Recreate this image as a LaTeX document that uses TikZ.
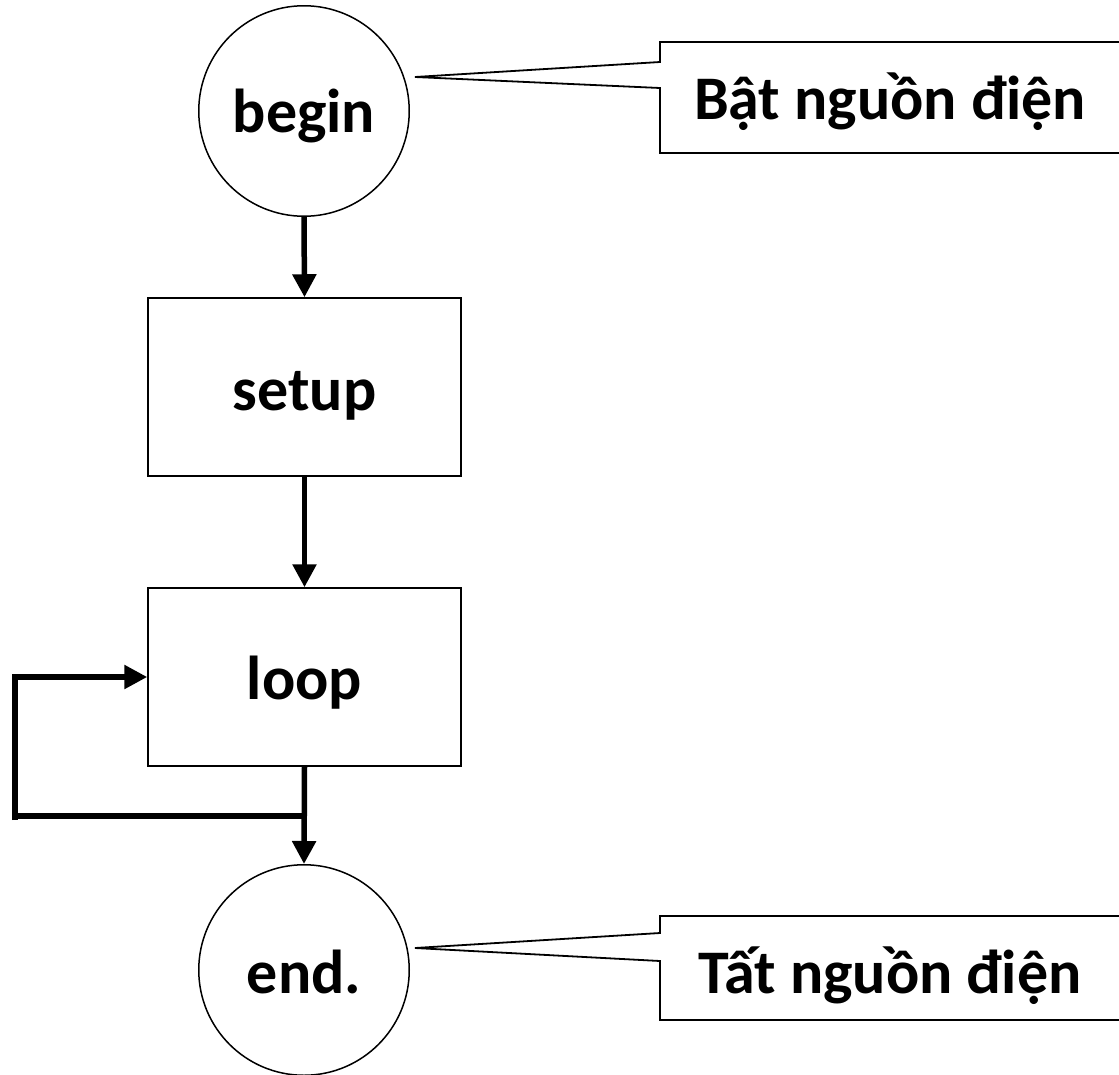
\documentclass[tikz,border=0pt]{standalone}
\usepackage{fontspec}
\setmainfont{Carlito}
\usetikzlibrary{arrows.meta}
\begin{document}
\begin{tikzpicture}[x=1pt,y=-1pt,
  lbl/.style={font=\fontsize{62}{70}\selectfont\bfseries, inner sep=0pt, anchor=base},
  circ/.style={draw, circle, line width=1.5pt, minimum size=210.5pt, inner sep=0pt},
  boxx/.style={draw, rectangle, line width=1.5pt, minimum width=313pt, minimum height=178pt, inner sep=0pt},
  flow/.style={line width=5.5pt, -{Triangle[length=23pt,width=23pt]}},
  plain/.style={line width=5.5pt},
  callout/.style={draw, line width=1.8pt, fill=white}]
\useasboundingbox (0,0) rectangle (1119,1074);
\node[circ] (begin) at (304,111) {};
\node[lbl] at (304,132) {begin};
\node[boxx] (setup) at (304.5,387) {};
\node[lbl] at (304.5,410) {setup};
\node[boxx] (loop) at (304.5,677) {};
\node[lbl] at (304.5,699) {loop};
\node[circ] (end) at (304,970) {};
\node[lbl] at (304,993) {end.};
% connectors
\draw[flow] (begin.south) -- (setup.north);
\draw[flow] (setup.south) -- (loop.north);
\draw[flow] (loop.south) -- (end.north);
\coordinate (j) at (304,816);
\coordinate (c1) at (15,816);
\coordinate (c2) at (15,677);
\draw[plain] (j) -- (c1);
\draw[flow] (15,820) -- (c2) -- (loop.west);
% callouts
\coordinate (t1) at (415,77);
\draw[callout] (660,62) -- (660,42) -- (1125,42) -- (1125,153) -- (660,153) -- (660,88) -- (t1) -- cycle;
\node[lbl] (c1txt) at (890,119) {Bật nguồn điện};
\coordinate (t2) at (415,948);
\draw[callout] (660,933) -- (660,916) -- (1125,916) -- (1125,1020) -- (660,1020) -- (660,961) -- (t2) -- cycle;
\node[lbl] (c2txt) at (890,993) {Tất nguồn điện};
\end{tikzpicture}
\end{document}
